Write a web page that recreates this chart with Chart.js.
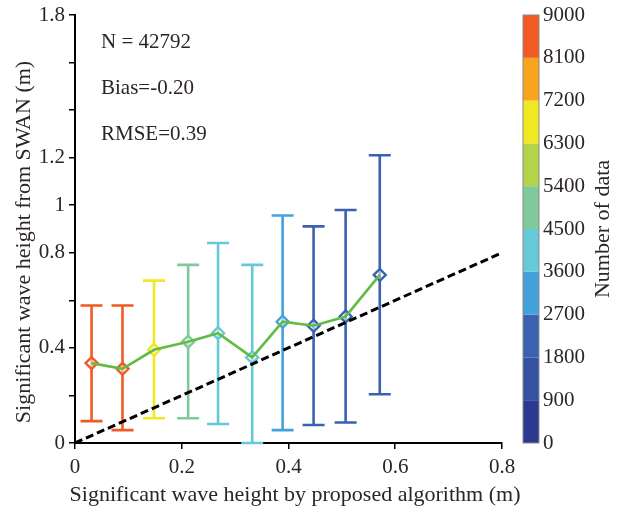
<!DOCTYPE html>
<html>
<head>
<meta charset="utf-8">
<script src="https://cdn.jsdelivr.net/npm/chart.js@4.4.1/dist/chart.umd.min.js"></script>
<style>
  html, body { margin: 0; padding: 0; background: #fff; }
</style>
</head>
<body>
<canvas id="chart" width="620" height="511"></canvas>
<script>
// bin centres (m)
const binX   = [0.031, 0.089, 0.148, 0.212, 0.268, 0.332, 0.389, 0.447, 0.507, 0.571];
// mean SWAN height in each bin, and the error bar ends
const binMean  = [0.336, 0.312, 0.392, 0.426, 0.462, 0.360, 0.510, 0.493, 0.532, 0.707];
const binUpper = [0.578, 0.578, 0.683, 0.749, 0.841, 0.749, 0.957, 0.911, 0.980, 1.210];
const binLower = [0.092, 0.054, 0.104, 0.104, 0.080, 0.000, 0.054, 0.076, 0.086, 0.205];
// samples per bin (only the colour bin is readable from the figure)
const binCount = [8150, 8120, 6350, 4550, 3680, 3620, 2750, 1880, 1850, 1842];

const refLine = [0, 0.8];   // 1:1 line ends
const yTickLabels = [0, 0.4, 0.8, 1, 1.2, 1.8];

// colour bar, bottom to top
const cbStep = 900;
const cbColors = ['#2b3990', '#3551a2', '#3b62b1', '#44a1db', '#66c9d8',
                  '#80c99b', '#b3d349', '#f0e821', '#f7a51d', '#ef5a25'];

const stats = ['N = 42792', 'Bias=-0.20', 'RMSE=0.39'];
const xTitle = 'Significant wave height by proposed algorithm (m)';
const yTitle = 'Significant wave height from SWAN (m)';
const cbTitle = 'Number of data';

const FONT = '"Liberation Serif", "Times New Roman", serif';
const INK = '#2b2523';

const binColor = n => cbColors[Math.min(cbColors.length - 1, Math.floor(n / cbStep))];
const pointColors = binCount.map(binColor);

const errorBars = {
  id: 'errorBars',
  beforeDatasetsDraw(chart) {
    const { ctx, scales: { x, y } } = chart;
    ctx.save();
    ctx.lineWidth = 2.6;
    binX.forEach((v, i) => {
      const px = x.getPixelForValue(v);
      const yl = y.getPixelForValue(binLower[i]), yu = y.getPixelForValue(binUpper[i]);
      ctx.strokeStyle = pointColors[i];
      ctx.beginPath();
      ctx.moveTo(px, yl); ctx.lineTo(px, yu);
      ctx.moveTo(px - 11, yu); ctx.lineTo(px + 11, yu);
      ctx.moveTo(px - 11, yl); ctx.lineTo(px + 11, yl);
      ctx.stroke();
    });
    ctx.restore();
  }
};

function rotText(ctx, s, x, y) {
  ctx.save();
  ctx.translate(x, y);
  ctx.rotate(-Math.PI / 2);
  ctx.fillText(s, 0, 0);
  ctx.restore();
}

const colorBar = {
  id: 'colorBar',
  afterDraw(chart) {
    const { ctx, chartArea, scales: { cb } } = chart;
    const x0 = chartArea.right + 21, w = 16;
    ctx.save();
    cbColors.forEach((c, i) => {
      const yb = cb.getPixelForValue(i * cbStep), yt = cb.getPixelForValue((i + 1) * cbStep);
      ctx.fillStyle = c;
      ctx.fillRect(x0, yt, w, yb - yt);
    });
    ctx.strokeStyle = '#8a8a8a'; ctx.lineWidth = 1;
    ctx.strokeRect(x0, cb.top, w, cb.bottom - cb.top);

    // axis titles
    ctx.fillStyle = INK;
    ctx.font = '22px ' + FONT;
    ctx.textAlign = 'center'; ctx.textBaseline = 'middle';
    rotText(ctx, cbTitle, 603, (cb.top + cb.bottom) / 2);
    rotText(ctx, yTitle, 24, 242);
    ctx.fillText(xTitle, 295, 495);

    // stats text
    ctx.font = '21px ' + FONT;
    ctx.textAlign = 'left'; ctx.textBaseline = 'alphabetic';
    stats.forEach((s, i) => ctx.fillText(s, 101, 48 + i * 46));
    ctx.restore();
  }
};

const tickFont = { family: FONT, size: 21 };

new Chart(document.getElementById('chart'), {
  type: 'scatter',
  data: {
    datasets: [
      { // 1:1 reference
        data: refLine.map(v => ({ x: v, y: v })),
        showLine: true, borderColor: '#000', borderWidth: 3, borderDash: [8, 4],
        pointRadius: 0, order: 0
      },
      { // mean curve
        data: binX.map((v, i) => ({ x: v, y: binMean[i] })),
        showLine: true, borderColor: '#62bb46', borderWidth: 2.6,
        pointRadius: 0, order: 1
      },
      { // diamonds
        data: binX.map((v, i) => ({ x: v, y: binMean[i] })),
        pointStyle: 'rectRot', pointRadius: 6, borderWidth: 2.4,
        borderColor: pointColors, backgroundColor: 'rgba(255,255,255,0.55)', order: 2
      }
    ]
  },
  options: {
    responsive: false,
    animation: false,
    layout: { padding: { top: 15, left: 0, right: 0, bottom: 0 } },
    plugins: { legend: { display: false }, tooltip: { enabled: false } },
    scales: {
      x: {
        type: 'linear', min: 0, max: 0.8,
        ticks: { stepSize: 0.2, color: INK, font: tickFont, padding: 6, maxRotation: 0 },
        grid: { drawOnChartArea: false, tickLength: 6, color: '#000', lineWidth: 1.5 },
        border: { color: '#000', width: 2 },
        afterFit(s) { s.height = 68; }
      },
      y: {
        type: 'linear', min: 0, max: 1.8,
        ticks: {
          stepSize: 0.2, color: INK, font: tickFont, padding: 4, autoSkip: false,
          callback: v => yTickLabels.some(t => Math.abs(t - v) < 1e-6) ? String(+v.toFixed(1)) : ''
        },
        grid: { drawOnChartArea: false, tickLength: 6, color: '#000', lineWidth: 1.5 },
        border: { color: '#000', width: 2 },
        afterFit(s) { s.width = 75; s.paddingTop = 0; s.paddingBottom = 0; }
      },
      cb: {
        type: 'linear', position: 'right', min: 0, max: 9000,
        ticks: { stepSize: cbStep, color: INK, font: tickFont, padding: 41, autoSkip: false,
                 callback: v => String(v) },
        grid: { display: false, drawTicks: false },
        border: { display: false },
        afterFit(s) { s.width = 118; s.paddingTop = 0; s.paddingBottom = 0; }
      }
    }
  },
  plugins: [errorBars, colorBar]
});
</script>
</body>
</html>
